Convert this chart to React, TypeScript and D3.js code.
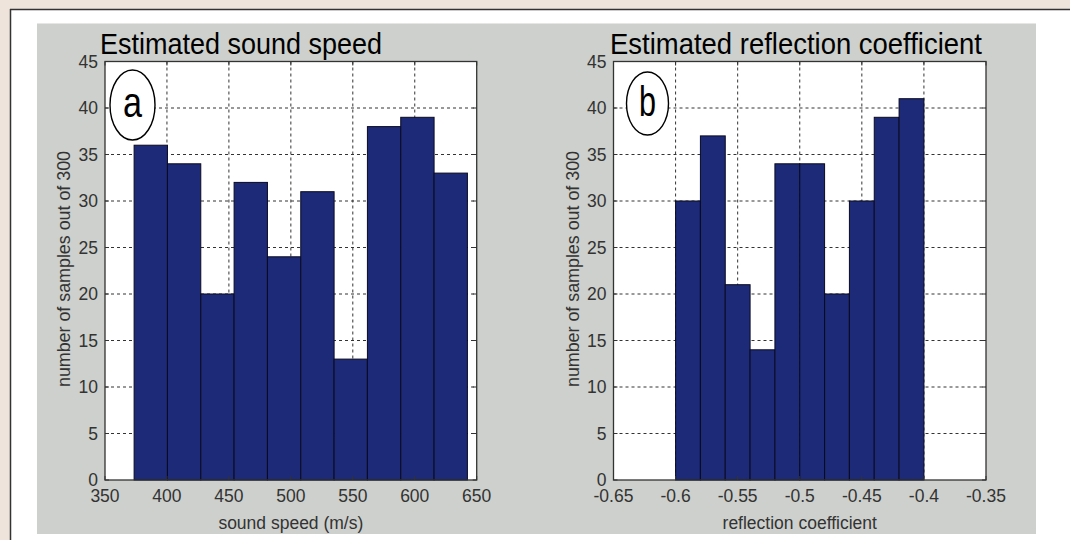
import React from "react";
import * as d3 from "d3";

// histogram counts, 10 bins each
const speedCounts = [36, 34, 20, 32, 24, 31, 13, 38, 39, 33];
const speedBinRange = [373.5, 642.5];
const speedTicks = [350, 400, 450, 500, 550, 600, 650];
const speedTickLabels = ["350", "400", "450", "500", "550", "600", "650"];

const reflCounts = [30, 37, 21, 14, 34, 34, 20, 30, 39, 41];
const reflBinRange = [-0.6, -0.4];
const reflTicks = [-0.65, -0.6, -0.55, -0.5, -0.45, -0.4, -0.35];
const reflTickLabels = ["-0.65", "-0.6", "-0.55", "-0.5", "-0.45", "-0.4", "-0.35"];

const yTicks = [0, 5, 10, 15, 20, 25, 30, 35, 40, 45];
const yLabel = "number of samples out of 300";

const W = 1070;
const H = 540;
const FONT = "'Liberation Sans', Arial, Helvetica, sans-serif";
const TITLE_FONT = "'Liberation Sans Narrow', 'Arial Narrow', 'Liberation Sans', sans-serif";
const BAR = "#1c2a78";
const INK = "#333";

function Panel(props) {
  var { counts, binRange, ticks, tickLabels, domain, left, right, title, titleX, titleW, xLabel, letter, letterW, ell, yLabelX } = props;
  var top = 61.5;
  var bottom = 480;

  var x = d3.scaleLinear().domain(domain).range([left, right]);
  var y = d3.scaleLinear().domain([0, 45]).range([bottom, top]);

  var n = counts.length;
  var step = (binRange[1] - binRange[0]) / n;
  var bins = counts.map((c, i) => ({
    x0: binRange[0] + i * step,
    x1: binRange[0] + (i + 1) * step,
    c: c,
  }));

  var inner = ticks.slice(1, -1);
  var innerY = yTicks.slice(1, -1);

  return (
    <g>
      <text
        x={titleX}
        y={54}
        fontFamily={TITLE_FONT}
        fontSize={30}
        textLength={titleW}
        lengthAdjust="spacingAndGlyphs"
        fill="#000"
      >
        {title}
      </text>
      <rect x={left} y={top} width={right - left} height={bottom - top} fill="#fff" />
      {/* grid */}
      {inner.map((t) => (
        <line key={"gx" + t} x1={x(t)} x2={x(t)} y1={top} y2={bottom} stroke="#333" strokeWidth={1} strokeDasharray="3,3" />
      ))}
      {innerY.map((t) => (
        <line key={"gy" + t} x1={left} x2={right} y1={y(t)} y2={y(t)} stroke="#333" strokeWidth={1} strokeDasharray="3,3" />
      ))}
      {/* bars */}
      {bins.map((b, i) => (
        <rect
          key={i}
          x={x(b.x0)}
          y={y(b.c)}
          width={x(b.x1) - x(b.x0)}
          height={bottom - y(b.c)}
          fill={BAR}
          stroke="#0a0a20"
          strokeWidth={1}
        />
      ))}
      {/* tick marks inside the box */}
      {ticks.map((t) => (
        <g key={"tx" + t}>
          <line x1={x(t)} x2={x(t)} y1={bottom} y2={bottom - 4} stroke={INK} />
          <line x1={x(t)} x2={x(t)} y1={top} y2={top + 4} stroke={INK} />
        </g>
      ))}
      {yTicks.map((t) => (
        <g key={"ty" + t}>
          <line x1={left} x2={left + 4} y1={y(t)} y2={y(t)} stroke={INK} />
          <line x1={right} x2={right - 4} y1={y(t)} y2={y(t)} stroke={INK} />
        </g>
      ))}
      <rect x={left} y={top} width={right - left} height={bottom - top} fill="none" stroke={INK} strokeWidth={1.3} />
      {/* tick labels */}
      {ticks.map((t, i) => (
        <text key={"lx" + t} x={x(t)} y={501.5} textAnchor="middle" fontFamily={FONT} fontSize={17.5} fill={INK}>
          {tickLabels[i]}
        </text>
      ))}
      {yTicks.map((t) => (
        <text key={"ly" + t} x={left - 7} y={y(t) + 6.3} textAnchor="end" fontFamily={FONT} fontSize={17.5} fill={INK}>
          {t}
        </text>
      ))}
      <text x={(left + right) / 2} y={529} textAnchor="middle" fontFamily={FONT} fontSize={17.5} fill={INK}>
        {xLabel}
      </text>
      <text
        transform={`translate(${yLabelX},269) rotate(-90)`}
        textAnchor="middle"
        fontFamily={FONT}
        fontSize={17.5}
        textLength={236}
        lengthAdjust="spacingAndGlyphs"
        fill={INK}
      >
        {yLabel}
      </text>
      {/* panel letter */}
      <ellipse cx={ell.cx} cy={ell.cy} rx={ell.rx} ry={ell.ry} fill="#fff" stroke="#000" strokeWidth={1.4} />
      <text
        x={ell.cx - letterW / 2}
        y={ell.cy + 12}
        fontFamily={TITLE_FONT}
        fontSize={42}
        textLength={letterW}
        lengthAdjust="spacingAndGlyphs"
        fill="#000"
      >
        {letter}
      </text>
    </g>
  );
}

export default function App() {
  return (
    <svg width={W} height={H} style={{ position: "absolute", left: 0, top: 0, display: "block" }}>
      <rect x={0} y={0} width={W} height={H} fill="#eee4dc" />
      <rect x={10} y={9} width={W} height={H} fill="#fff" />
      <line x1={10} x2={W} y1={9.5} y2={9.5} stroke="#333" strokeWidth={1.5} />
      <line x1={10.5} x2={10.5} y1={9} y2={H} stroke="#333" strokeWidth={1.5} />
      <rect x={37} y={23.5} width={1036 - 37} height={534 - 23.5} fill="#cdd0cc" />
      <Panel
        counts={speedCounts}
        binRange={speedBinRange}
        ticks={speedTicks}
        tickLabels={speedTickLabels}
        domain={[350, 650]}
        left={105}
        right={476.7}
        title="Estimated sound speed"
        titleX={100}
        titleW={282}
        xLabel="sound speed (m/s)"
        letter="a"
        letterW={19}
        ell={{ cx: 132.5, cy: 105, rx: 22.5, ry: 35 }}
        yLabelX={70}
      />
      <Panel
        counts={reflCounts}
        binRange={reflBinRange}
        ticks={reflTicks}
        tickLabels={reflTickLabels}
        domain={[-0.65, -0.35]}
        left={613.5}
        right={986}
        title="Estimated reflection coefficient"
        titleX={610}
        titleW={372}
        xLabel="reflection coefficient"
        letter="b"
        letterW={17}
        ell={{ cx: 647.5, cy: 103.5, rx: 21, ry: 31.5 }}
        yLabelX={579}
      />
    </svg>
  );
}
